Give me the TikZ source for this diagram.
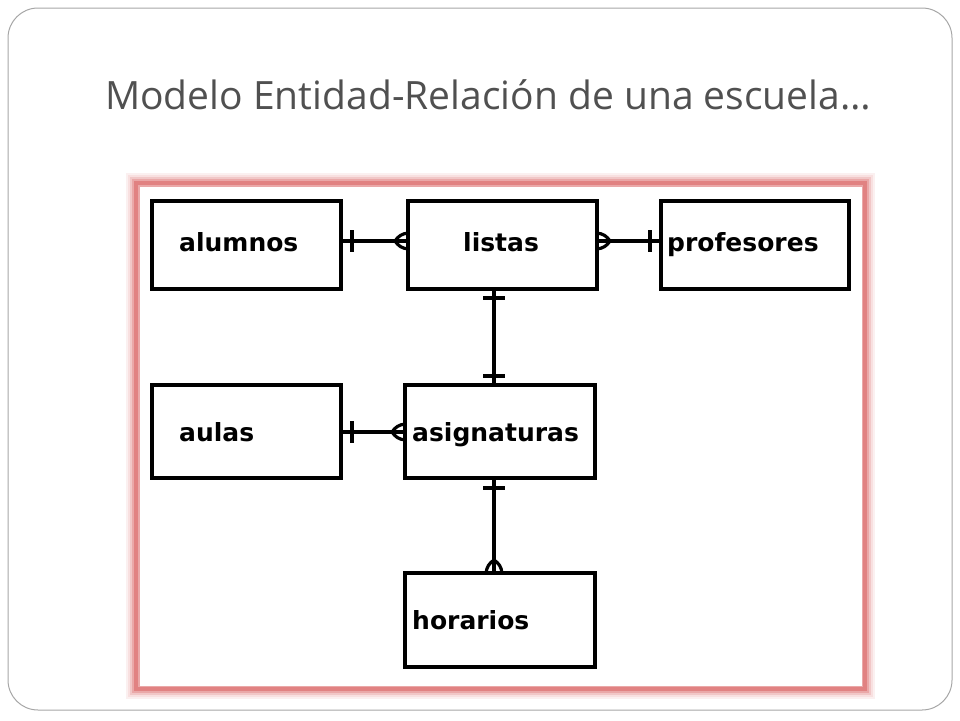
\documentclass[tikz,border=0pt]{standalone}
\usepackage{fontspec}
\setmainfont{Open Sans}
\newfontfamily\lblfont{DejaVu Sans}
\definecolor{glow}{RGB}{225,130,130}
\definecolor{ttl}{RGB}{80,80,80}
\begin{document}
\begin{tikzpicture}[x=1pt,y=-1pt,
  ent/.style={draw,line width=3.2pt},
  lbl/.style={anchor=base west,font=\lblfont\bfseries\fontsize{25}{28}\selectfont,inner sep=0},
  rel/.style={line width=3.2pt}]
\useasboundingbox (0,0) rectangle (960,720);
\draw[rounded corners=30pt,draw=gray!70,line width=1pt] (8,8) rectangle (952,710);
\node[text=ttl,font=\fontsize{39}{44}\selectfont] (title) at (488,95) {Modelo Entidad-Relación de una escuela…};
% glow frame
\foreach \w/\o in {20/12,16/25,12/45,8/70,4/100}{\draw[glow!\o,line width=\w pt] (136,183) rectangle (865,689);}
\fill[white] (140,187) rectangle (862,686);
% entities
\draw[ent] (152,201) rectangle (341,289);
\draw[ent] (408,201) rectangle (597,289);
\draw[ent] (661,201) rectangle (849,289);
\draw[ent] (152,385) rectangle (341,478);
\draw[ent] (405,385) rectangle (595,478);
\draw[ent] (405,573) rectangle (595,667);
\node[lbl] (t1) at (179,251) {alumnos};
\node[lbl] (t2) at (463,251) {listas};
\node[lbl] (t3) at (667,251) {profesores};
\node[lbl] (t4) at (179,441) {aulas};
\node[lbl] (t5) at (412,441) {asignaturas};
\node[lbl] (t6) at (412,629) {horarios};
% relations
\draw[rel] (341,241) -- (408,241);
\draw[rel] (352,230) -- (352,252);
\draw[rel] (395,241) to[bend left=25] (408,233); \draw[rel] (395,241) to[bend right=25] (408,249);
\draw[rel] (597,241) -- (661,241);
\draw[rel] (650,230) -- (650,252);
\draw[rel] (610,241) to[bend right=25] (597,233); \draw[rel] (610,241) to[bend left=25] (597,249);
\draw[rel] (494,289) -- (494,385);
\draw[rel] (483,298) -- (505,298);
\draw[rel] (483,376) -- (505,376);
\draw[rel] (341,432) -- (405,432);
\draw[rel] (352,421) -- (352,443);
\draw[rel] (392,432) to[bend left=25] (405,424); \draw[rel] (392,432) to[bend right=25] (405,440);
\draw[rel] (494,478) -- (494,573);
\draw[rel] (483,488) -- (505,488);
\draw[rel] (494,560) to[bend right=25] (486,573); \draw[rel] (494,560) to[bend left=25] (502,573);
\end{tikzpicture}
\end{document}
